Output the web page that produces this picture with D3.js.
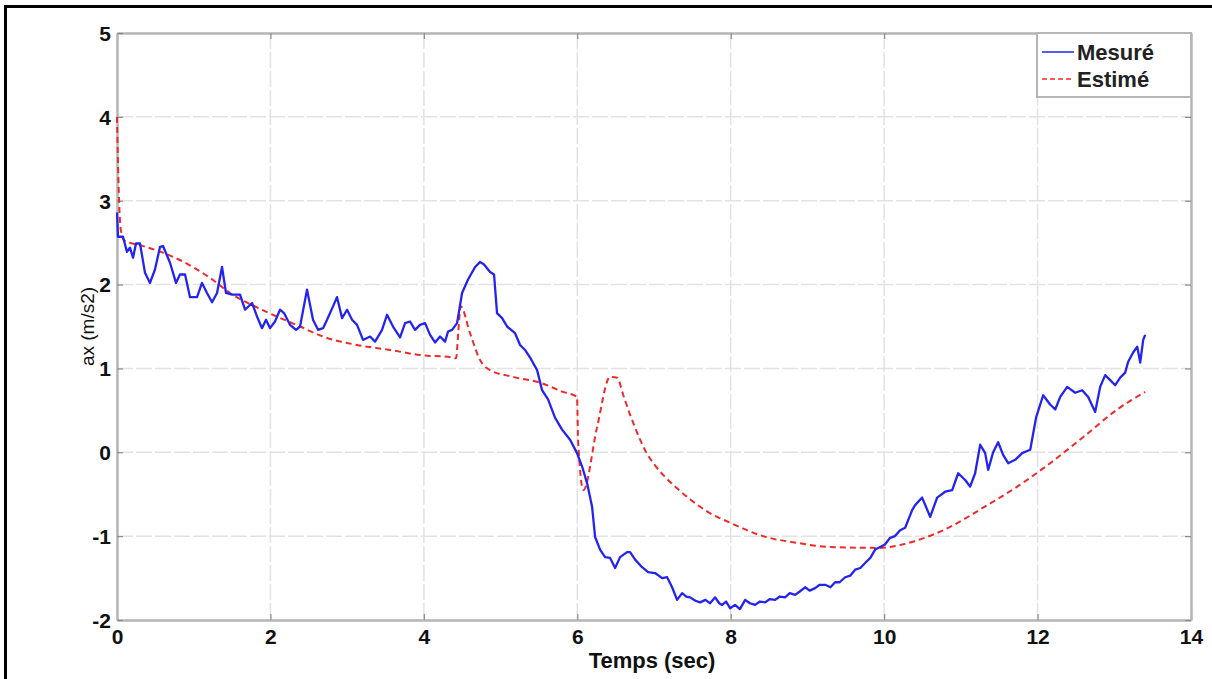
<!DOCTYPE html>
<html>
<head>
<meta charset="utf-8">
<script src="https://cdn.jsdelivr.net/npm/d3@7"></script>
<style>
  html, body { margin: 0; padding: 0; background: #ffffff; }
  svg { display: block; }
</style>
</head>
<body>
<svg id="chart" width="1212" height="679"></svg>
<script>
// ---- data ----
const measuredT = [0.00,0.013,0.078,0.130,0.169,0.209,0.248,0.300,0.365,0.430,0.495,0.561,0.600,0.691,0.769,0.821,0.887,0.952,1.043,1.108,1.173,1.239,1.304,1.369,1.421,1.499,1.604,1.669,1.760,1.825,1.890,1.943,1.995,2.060,2.125,2.177,2.255,2.334,2.386,2.477,2.555,2.621,2.686,2.738,2.816,2.868,2.934,2.999,3.064,3.129,3.207,3.299,3.364,3.455,3.520,3.598,3.690,3.755,3.820,3.885,3.950,4.016,4.081,4.146,4.211,4.276,4.316,4.368,4.433,4.498,4.576,4.668,4.733,4.785,4.863,4.915,4.954,5.020,5.085,5.189,5.254,5.319,5.385,5.476,5.541,5.619,5.711,5.802,5.906,5.997,6.063,6.128,6.193,6.232,6.297,6.362,6.428,6.493,6.558,6.649,6.688,6.754,6.845,6.923,7.014,7.106,7.171,7.236,7.301,7.366,7.420,7.471,7.540,7.601,7.670,7.731,7.797,7.850,7.888,7.940,7.992,8.057,8.120,8.188,8.250,8.318,8.380,8.449,8.510,8.579,8.640,8.709,8.770,8.840,8.900,8.970,9.030,9.100,9.160,9.231,9.300,9.361,9.420,9.492,9.560,9.622,9.690,9.752,9.820,9.883,9.948,10.010,10.078,10.140,10.209,10.274,10.365,10.404,10.495,10.600,10.691,10.795,10.887,10.965,11.056,11.121,11.186,11.252,11.317,11.356,11.421,11.486,11.551,11.617,11.708,11.799,11.904,11.982,12.073,12.164,12.230,12.295,12.386,12.490,12.581,12.660,12.751,12.816,12.881,12.947,13.012,13.077,13.142,13.181,13.246,13.299,13.338,13.377,13.403];
const measuredV = [2.86,2.57,2.57,2.39,2.44,2.32,2.49,2.49,2.14,2.02,2.18,2.45,2.46,2.26,2.02,2.12,2.12,1.85,1.85,2.02,1.90,1.79,1.90,2.21,1.90,1.88,1.88,1.70,1.78,1.62,1.48,1.58,1.48,1.56,1.70,1.66,1.52,1.46,1.50,1.94,1.58,1.46,1.48,1.58,1.74,1.85,1.60,1.70,1.58,1.52,1.34,1.38,1.32,1.46,1.64,1.50,1.37,1.54,1.56,1.46,1.52,1.54,1.40,1.31,1.38,1.32,1.44,1.46,1.54,1.90,2.06,2.21,2.27,2.24,2.15,2.12,1.66,1.60,1.50,1.42,1.28,1.22,1.13,0.98,0.74,0.63,0.41,0.27,0.15,-0.01,-0.17,-0.37,-0.65,-1.01,-1.16,-1.25,-1.26,-1.38,-1.25,-1.19,-1.19,-1.28,-1.37,-1.43,-1.44,-1.50,-1.49,-1.61,-1.76,-1.68,-1.72,-1.73,-1.77,-1.79,-1.76,-1.80,-1.73,-1.80,-1.82,-1.78,-1.86,-1.82,-1.87,-1.76,-1.80,-1.82,-1.78,-1.79,-1.75,-1.76,-1.72,-1.73,-1.68,-1.70,-1.66,-1.61,-1.65,-1.62,-1.58,-1.58,-1.61,-1.55,-1.55,-1.49,-1.47,-1.40,-1.38,-1.32,-1.26,-1.16,-1.13,-1.10,-1.02,-1.00,-0.93,-0.90,-0.69,-0.63,-0.54,-0.77,-0.54,-0.47,-0.45,-0.25,-0.33,-0.41,-0.25,0.09,-0.01,-0.21,0.00,0.12,-0.03,-0.13,-0.09,-0.01,0.03,0.42,0.68,0.57,0.51,0.66,0.78,0.71,0.74,0.66,0.48,0.78,0.92,0.86,0.80,0.89,0.95,1.08,1.19,1.26,1.07,1.34,1.40];

const estimatedT = [0.00,0.02,0.05,0.10,0.30,0.756,1.213,1.473,1.890,2.386,2.686,3.129,3.559,3.950,4.381,4.420,4.450,4.480,4.602,4.733,4.863,5.163,5.515,5.815,5.997,6.010,6.080,6.258,6.428,6.519,6.600,6.688,6.800,6.910,7.000,7.119,7.301,7.471,7.700,7.992,8.422,8.866,9.296,9.909,10.430,10.860,11.291,11.734,12.164,12.594,13.038,13.403];
const estimatedV = [4.00,3.20,2.65,2.52,2.47,2.32,2.08,1.90,1.70,1.50,1.38,1.28,1.22,1.16,1.13,1.12,1.45,1.74,1.42,1.10,0.98,0.90,0.83,0.72,0.66,0.15,-0.45,0.30,0.90,0.89,0.68,0.45,0.19,-0.02,-0.14,-0.27,-0.43,-0.56,-0.71,-0.84,-1.00,-1.08,-1.13,-1.14,-1.05,-0.89,-0.66,-0.41,-0.13,0.18,0.51,0.72];

const xTicks = [0, 2, 4, 6, 8, 10, 12, 14];
const yTicks = [-2, -1, 0, 1, 2, 3, 4, 5];
const seriesNames = ["Mesuré", "Estimé"];
const xLabel = "Temps (sec)";
const yLabel = "ax (m/s2)";

// ---- layout ----
const svg = d3.select("#chart");
const L = 117, R = 1191, T = 33, B = 620;
const x = d3.scaleLinear().domain([0, 14]).range([L, R]);
const y = d3.scaleLinear().domain([-2, 5]).range([B, T]);
const fmt = d => String(d);
const font = "'Liberation Sans', Arial, Helvetica, sans-serif";

// outer frame (top and left visible)
svg.append("line").attr("x1", 5).attr("x2", 1212).attr("y1", 6.5).attr("y2", 6.5)
  .attr("stroke", "#000").attr("stroke-width", 3);
svg.append("line").attr("x1", 5.5).attr("x2", 5.5).attr("y1", 5).attr("y2", 679)
  .attr("stroke", "#000").attr("stroke-width", 3);

// grid
const grid = svg.append("g");
grid.selectAll(".vg").data(xTicks.slice(1, -1)).enter().append("line")
  .attr("x1", d => x(d)).attr("x2", d => x(d)).attr("y1", T).attr("y2", B)
  .attr("stroke", "#e2e2e2").attr("stroke-width", 1.5).attr("stroke-dasharray", "16,3");
grid.selectAll(".hg").data(yTicks.slice(1, -1)).enter().append("line")
  .attr("x1", L).attr("x2", R).attr("y1", d => y(d)).attr("y2", d => y(d))
  .attr("stroke", "#e2e2e2").attr("stroke-width", 1.5).attr("stroke-dasharray", "16,3");

// axes with inward ticks
const tickColor = "#8c8c8c";
const gx = svg.append("g").attr("transform", `translate(0,${B})`)
  .call(d3.axisBottom(x).tickValues(xTicks).tickFormat(fmt).tickSizeInner(-6).tickSizeOuter(0).tickPadding(12));
const gxTop = svg.append("g").attr("transform", `translate(0,${T})`)
  .call(d3.axisTop(x).tickValues(xTicks).tickSizeInner(-6).tickSizeOuter(0).tickFormat(""));
const gy = svg.append("g").attr("transform", `translate(${L},0)`)
  .call(d3.axisLeft(y).tickValues(yTicks).tickFormat(fmt).tickSizeInner(-6).tickSizeOuter(0).tickPadding(6));
const gyR = svg.append("g").attr("transform", `translate(${R},0)`)
  .call(d3.axisRight(y).tickValues(yTicks).tickSizeInner(-6).tickSizeOuter(0).tickFormat(""));
[gx, gxTop, gy, gyR].forEach(g => {
  g.select(".domain").attr("stroke", "#b5b5b5").attr("stroke-width", 2.5);
  g.selectAll(".tick line").attr("stroke", tickColor).attr("stroke-width", 1.2);
});
[gx, gy].forEach(g => g.selectAll(".tick text")
  .attr("fill", "#111").style("font-family", font)
  .style("font-size", "21px").style("font-weight", "bold"));
gy.selectAll(".tick text").attr("dy", "0.35em");
gx.selectAll(".tick text").attr("dy", "0.55em");

// series
const measured = measuredT.map((t, i) => [t, measuredV[i]]);
const estimated = estimatedT.map((t, i) => [t, estimatedV[i]]);
const lineLinear = d3.line().x(d => x(d[0])).y(d => y(d[1]));
const lineSmooth = d3.line().x(d => x(d[0])).y(d => y(d[1])).curve(d3.curveMonotoneX);

svg.append("path").datum(estimated).attr("d", lineSmooth)
  .attr("fill", "none").attr("stroke", "#ee2a2a").attr("stroke-width", 2)
  .attr("stroke-dasharray", "6,4");
svg.append("path").datum(measured).attr("d", lineLinear)
  .attr("fill", "none").attr("stroke", "#2424f0").attr("stroke-width", 2.3)
  .attr("stroke-linejoin", "round");

// axis labels
svg.append("text").attr("x", (L + R) / 2 - 2).attr("y", 668)
  .attr("text-anchor", "middle").attr("fill", "#111")
  .style("font-family", font)
  .style("font-size", "22px").style("font-weight", "bold").text(xLabel);
svg.append("text").attr("transform", `translate(94,${(T + B) / 2}) rotate(-90)`)
  .attr("text-anchor", "middle").attr("fill", "#111")
  .style("font-family", font)
  .style("font-size", "19px").text(yLabel);

// legend
const lg = svg.append("g");
lg.append("rect").attr("x", 1037).attr("y", 33).attr("width", 154).attr("height", 64)
  .attr("fill", "#fff").attr("stroke", "#b5b5b5").attr("stroke-width", 2);
const legendRows = [
  { name: seriesNames[0], color: "#2424f0", dash: null, yy: 52 },
  { name: seriesNames[1], color: "#ee2a2a", dash: "5,3", yy: 79 }
];
legendRows.forEach(r => {
  lg.append("line").attr("x1", 1042).attr("x2", 1074).attr("y1", r.yy).attr("y2", r.yy)
    .attr("stroke", r.color).attr("stroke-width", 1.5).attr("stroke-dasharray", r.dash);
  lg.append("text").attr("x", 1077).attr("y", r.yy).attr("dy", "0.36em")
    .attr("fill", "#222").style("font-family", font)
    .style("font-size", "22px").style("font-weight", "bold").text(r.name);
});
</script>
</body>
</html>
